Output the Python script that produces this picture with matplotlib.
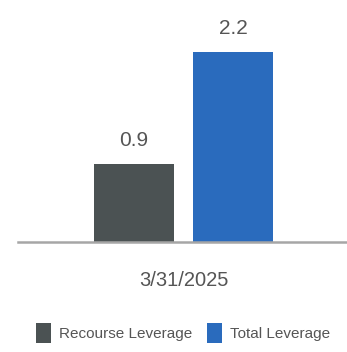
import matplotlib.pyplot as plt
from matplotlib.patches import Patch

# leverage ratios at period end
period = "3/31/2025"
series = ["Recourse Leverage", "Total Leverage"]
values = [0.9, 2.2]
colors = ["#4b5253", "#2a6bbd"]

plt.rcParams['font.family'] = ['Liberation Sans', 'DejaVu Sans']
text_color = "#555555"

fig = plt.figure(figsize=(3.47, 3.52), dpi=100)
ax = fig.add_axes([0.052, 0.3125, 0.948, 0.6875])

width = 0.25
offsets = [-0.155, 0.155]
for off, val, col in zip(offsets, values, colors):
    ax.bar(off, val, width=width, color=col, zorder=2)
    ax.text(off, val + 0.16, f"{val:.1f}", ha="center", va="bottom",
            fontsize=15, color=text_color)

ax.set_xlim(-0.517, 0.511)
ax.set_ylim(0, 2.8)
ax.set_xticks([0])
ax.set_xticklabels([period], fontsize=14.5, color=text_color)
ax.tick_params(axis="x", length=0, pad=21)
ax.set_yticks([])
for side in ["top", "right", "left"]:
    ax.spines[side].set_visible(False)
ax.spines["bottom"].set_color("#a6a6a6")
ax.spines["bottom"].set_linewidth(1.8)

handles = [Patch(facecolor=c, edgecolor="none") for c in colors]
leg = fig.legend(handles, series, loc="center", bbox_to_anchor=(0.527, 0.054),
                 ncol=2, frameon=False, fontsize=11, handlelength=1.0,
                 handleheight=1.55, handletextpad=0.5, columnspacing=1.0)
for t in leg.get_texts():
    t.set_color(text_color)

fig.savefig("out.png", dpi=100)
